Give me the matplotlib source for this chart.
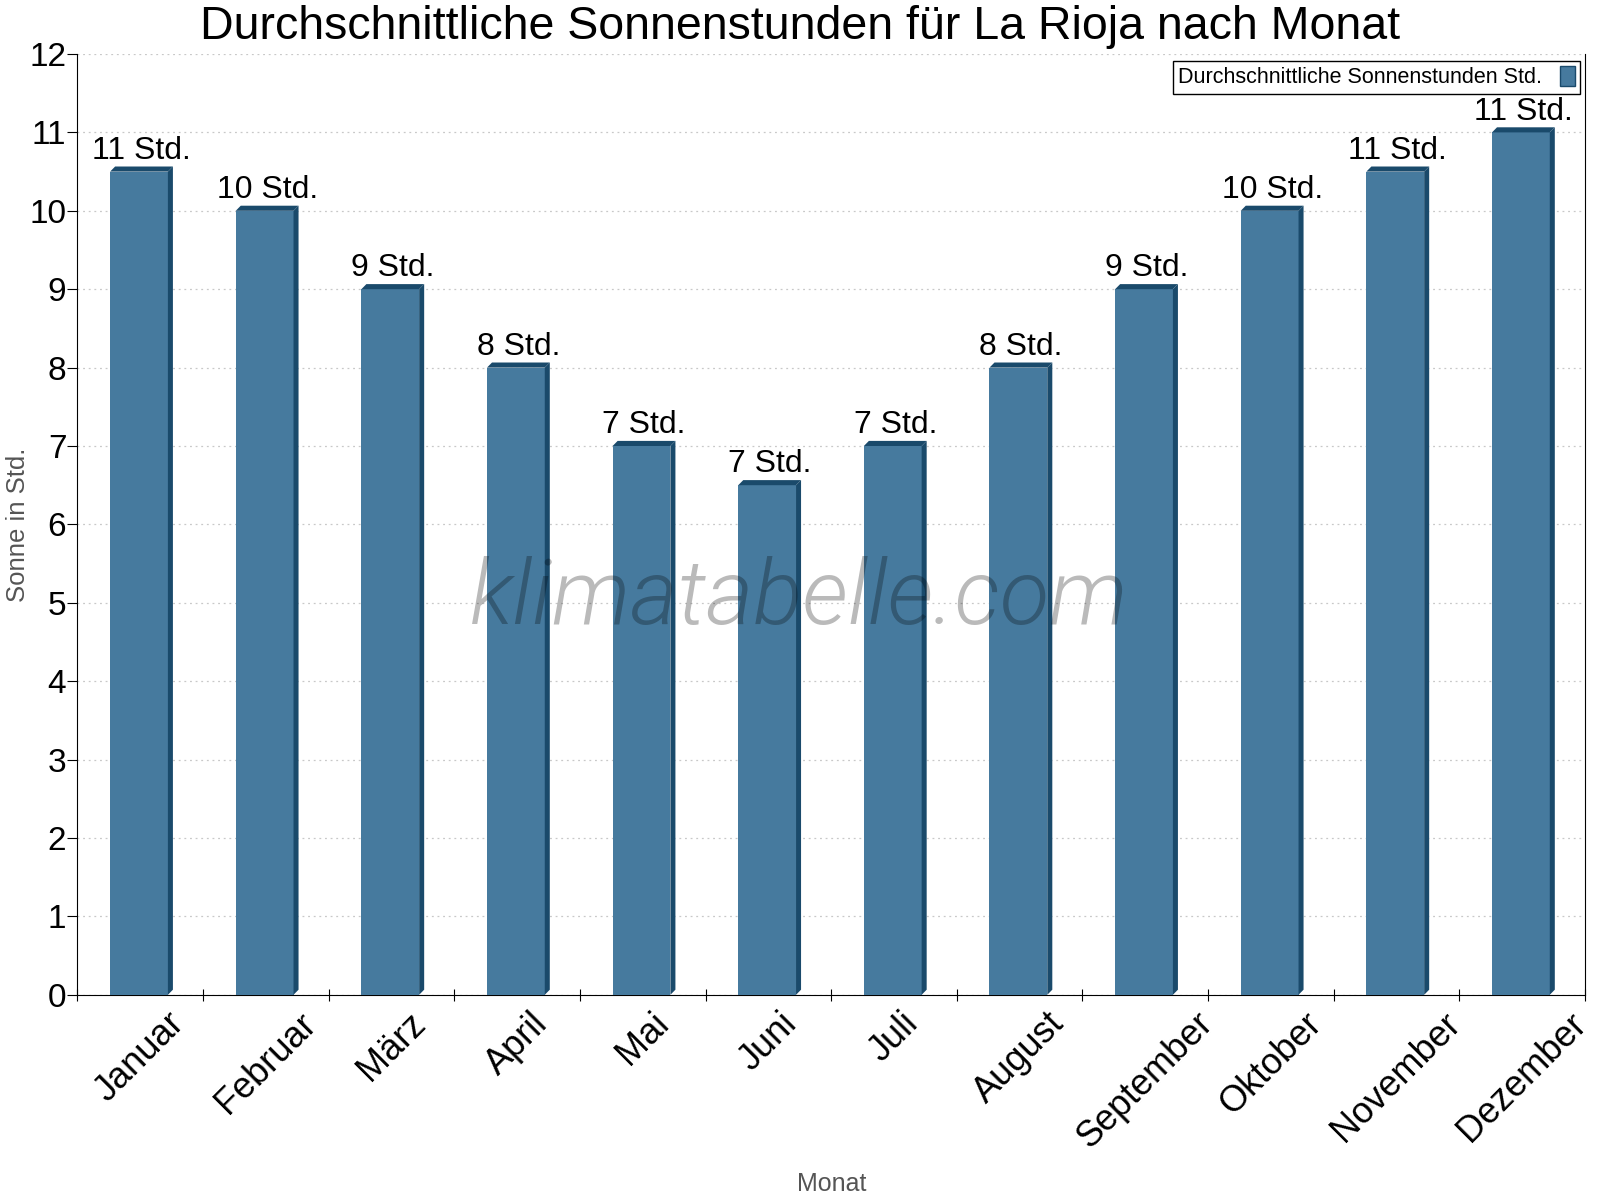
import matplotlib.pyplot as plt
import numpy as np

plt.rcParams['font.family'] = ['Liberation Sans', 'DejaVu Sans']

# Monatsdaten
monate = ['Januar', 'Februar', 'März', 'April', 'Mai', 'Juni',
          'Juli', 'August', 'September', 'Oktober', 'November', 'Dezember']
sonne = [10.5, 10, 9, 8, 7, 6.5, 7, 8, 9, 10, 10.5, 11]
beschriftung = ['11 Std.', '10 Std.', '9 Std.', '8 Std.', '7 Std.', '7 Std.',
                '7 Std.', '8 Std.', '9 Std.', '10 Std.', '11 Std.', '11 Std.']

front = '#467a9e'
dunkel = '#1a4a6b'

fig = plt.figure(figsize=(16, 12), dpi=100)
ax = fig.add_axes([0.0484, 0.171, 0.9422, 0.784])

x = np.arange(len(monate))
w = 0.46
dx = 0.04
dy = 0.065
x0 = x + 0.26

ax.bar(x0, sonne, width=w, align='edge', color=front, zorder=3,
       label='Durchschnittliche Sonnenstunden Std.')
for xi, h in zip(x0, sonne):
    # Seite
    ax.fill([xi + w, xi + w + dx, xi + w + dx, xi + w],
            [0, dy, h + dy, h], color=dunkel, lw=0, zorder=3)
    # Deckel
    ax.fill([xi, xi + w, xi + w + dx, xi + dx],
            [h, h, h + dy, h + dy], color=dunkel, lw=0, zorder=3)

for xi, h, t in zip(x0, sonne, beschriftung):
    ax.text(xi + (w + dx) / 2, h + dy + 0.01, t, ha='center', va='bottom',
            fontsize=23, zorder=5)

ax.set_xlim(0, 12)
ax.set_ylim(0, 12)
ax.set_yticks(range(0, 13))
ax.tick_params(axis='y', labelsize=24, length=7, direction='out', pad=1)
ax.set_xticks(range(0, 13))
ax.set_xticklabels([])
ax.set_xticks(x + 0.5, minor=True)
ax.set_xticklabels(monate, minor=True, rotation=45, ha='center', va='top',
                   fontsize=26)
ax.tick_params(axis='x', which='minor', length=0, pad=8)
ax.tick_params(axis='x', which='major', length=8, direction='inout')

ax.grid(axis='y', color='#c8c8c8', linestyle=(0, (1.5, 3)), lw=0.9, zorder=0)
ax.spines['top'].set_visible(False)

ax.set_ylabel('Sonne in Std.', fontsize=18.5, color='#555555', va='center')
ax.yaxis.set_label_coords(-0.0395, 0.5)
ax.set_xlabel('Monat', fontsize=18, color='#555555', va='center')
ax.xaxis.set_label_coords(0.5, -0.201)
fig.suptitle('Durchschnittliche Sonnenstunden für La Rioja nach Monat',
             fontsize=33.5, x=0.5, y=0.996, va='top')

ax.text(0.4786, 0.42, 'klimatabelle.com', transform=ax.transAxes, ha='center',
        va='center', fontsize=65.5, style='italic', color='black', alpha=0.27,
        family='Roboto', fontweight=300, zorder=6)

leg = ax.legend(loc='upper right', bbox_to_anchor=(0.9967, 0.9926), fontsize=15.5,
                markerfirst=False, fancybox=False, framealpha=1,
                handlelength=0.7, handleheight=1.0, borderaxespad=0,
                borderpad=0.25)
leg.get_frame().set_edgecolor('black')
leg.legend_handles[0].set_edgecolor(dunkel)

fig.savefig('out.png')
